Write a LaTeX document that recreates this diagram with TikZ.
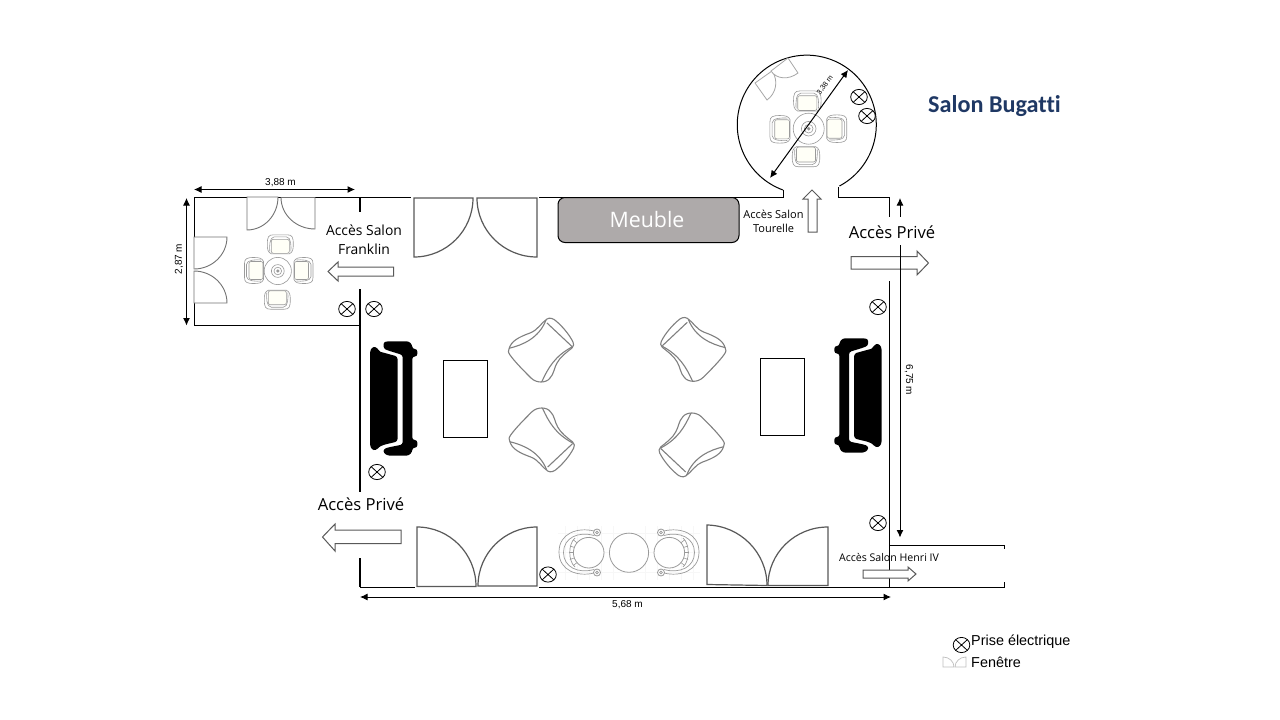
\documentclass[tikz,border=0pt]{standalone}
\usepackage{fontspec}
\setmainfont{Open Sans}
\newfontfamily\arialf{Liberation Sans}
\newfontfamily\titlef[Ligatures=NoCommon]{Carlito}
\usetikzlibrary{arrows.meta,calc}
\definecolor{navy}{HTML}{1F3864}
\definecolor{meublegray}{HTML}{AEAAAA}
\definecolor{chairline}{HTML}{9A9A9A}
\definecolor{cream}{HTML}{FFFFF7}
\tikzset{
  wall/.style={black,line width=.95pt},
  dim/.style={black,line width=1pt,{Latex[length=7.5pt,width=7pt]}-{Latex[length=7.5pt,width=7pt]}},
  doorline/.style={draw=black!65,line width=1.2pt,fill=white},
  thindoor/.style={draw=black!55,line width=.9pt,fill=white},
  windoor/.style={draw=black!35,line width=.8pt,fill=white},
  legdoor/.style={draw=black!25,line width=.7pt,fill=white},
  blockarrow/.style={draw=black!65,line width=1pt,fill=white,line join=miter},
  tub/.style={draw=black!50,line width=1.1pt},
  fur/.style={draw=chairline,line width=.6pt},
  faint/.style={draw=black!3,line width=.5pt},
  sofa/.style={fill=black,draw=none},
  lbl/.style={inner sep=0pt,align=center,text=black},
  dimtxt/.style={inner sep=0pt,font=\arialf\fontsize{10}{12}\selectfont},
  pics/prise/.style={code={
    \draw[black,line width=.8pt,fill=white] (0,0) ellipse[x radius=8.3pt,y radius=7.6pt];
    \draw[black,line width=.8pt] (-5.9,-5.4) -- (5.9,5.4) (-5.9,5.4) -- (5.9,-5.4);
  }},
  pics/chair/.style={code={
    \draw[fur,fill=white] (-9,9.5) .. controls (-12.5,8) and (-13,5) .. (-13,0) .. controls (-13,-7) and (-12,-9.5) .. (-7,-9.5)
       -- (7,-9.5) .. controls (12,-9.5) and (13,-7) .. (13,0) .. controls (13,5) and (12.5,8) .. (9,9.5) -- cycle;
    \draw[fur] (-10.5,7) .. controls (-11,3) and (-11,-7.5) .. (-6,-7.5) -- (6,-7.5) .. controls (11,-7.5) and (11,3) .. (10.5,7);
    \draw[fur,fill=cream,rounded corners=2pt] (-9,9) -- (-9,-5) -- (9,-5) -- (9,9) -- cycle;
  }},
  pics/roundtable/.style={code={
    \draw[fur,fill=white] (0,0) circle[radius=13.6pt];
    \draw[fur] (0,0) circle[radius=6.4pt];
    \draw[fur] (0,0) circle[radius=3.8pt];
    \draw[fur,fill=black!45] (0,0) circle[radius=1.3pt];
  }},
  pics/tubchair/.style={code={
    \draw[tub,fill=white] (-32,-1) .. controls (-30,-9) and (-22,-13) .. (-11,-17)
      .. controls (-3,-20) and (0,-27) .. (6,-31)
      .. controls (9,-33) and (13,-31) .. (15,-29)
      .. controls (21,-24) and (28,-16) .. (32,-8)
      .. controls (33,-6) and (33,-4) .. (31,-2)
      .. controls (26,2) and (19,7) .. (16,13)
      .. controls (13,18) and (13,24) .. (9,28)
      .. controls (7,31) and (3,32) .. (0,32)
      .. controls (-3,32) and (-7,31) .. (-10,28)
      .. controls (-17,21) and (-26,12) .. (-31,5)
      .. controls (-33,2) and (-33,1) .. (-32,-1) -- cycle;
    \draw[tub] (-32,-1.7) .. controls (-18,-5) and (-2,-12) .. (5,-30);
    \draw[tub] (6,-27) -- (31,-3.5);
    \draw[tub] (31,-3) .. controls (14,6) and (7,18) .. (0.7,32);
  }},
}
\newcommand\leaf[4][doorline]{%
  \draw[#1] (#2) -- (#3) .. controls ($(#3)+.552*(#4)-.552*(#2)$) and ($(#4)+.552*(#3)-.552*(#2)$) .. (#4) -- cycle;}
\newcommand\sofashape{%
  \fill[sofa,rounded corners=2.5pt] (370,352) -- (371.5,347.5) -- (376,346.5) .. controls (379,351) and (381,352) .. (383,352.5) -- (397.5,356.5) -- (397.5,441.5) -- (383,445) .. controls (381,446) and (379,447) .. (376,450.5) -- (371.5,449.5) -- (370,445) -- cycle;
  \fill[sofa,rounded corners=2.5pt] (383.5,342) -- (388,341.3) -- (409,341.3) -- (412.3,345) -- (412.3,349) -- (417.3,349) -- (417.3,356.5) -- (412.3,356.5) -- (412.3,440) -- (417.3,440) -- (417.3,447.7) -- (412.3,447.7) -- (412.3,452) -- (408.5,455.7) -- (388,455.7) -- (383.5,453) -- (383.5,449) -- (388,447.5) -- (402.7,444.5) -- (402.7,355) -- (388,350.5) -- (383.5,348.5) -- cycle;}
\newcommand\benchchair{%
  \draw[fur,line width=.7pt] (594,531) .. controls (578,527) and (559,533) .. (559,552) .. controls (559,571) and (578,577) .. (594,573);
  \draw[fur,line width=.7pt] (594,535.5) .. controls (578,531) and (563.5,538) .. (563.5,552.5) .. controls (563.5,567) and (578,574) .. (594,569.5);
  \draw[fur,line width=.7pt] (575,538) .. controls (568,544) and (568,561) .. (575,567);
  \foreach \a in {-40,-20,0,20,40}{\draw[fur,line width=.6pt] ({588.7-15.3*cos(\a)},{552.7+15.3*sin(\a)}) -- ({588.7-20*cos(\a)},{552.7+20*sin(\a)});}
  \draw[fur,line width=.8pt,fill=white] (588.7,552.7) circle[radius=15.3pt];
  \foreach \yy in {532.5,572.5}{\draw[fur,line width=.8pt,fill=white] (597,\yy) circle[radius=3.5pt]; \draw[fur,line width=.8pt] (597,\yy) circle[radius=1.4pt];}}
\begin{document}
\begin{tikzpicture}[x=1pt,y=-1pt]
\useasboundingbox[fill=white] (0,0) rectangle (1280,720);
% walls
\draw[wall] (360,197) -- (194,197) -- (194,237) (194,303) -- (194,325) -- (360,325);
\draw[wall] (360,197) -- (411,197);
\draw[wall,line width=1.3pt] (360,197) -- (360,212) (360,289) -- (360,492) (360,558) -- (360,587);
\draw[wall] (360,587) -- (415,587);
\draw[wall] (539,197) -- (783,197) -- (783,190);
\draw[wall] (838,187) -- (838,197) -- (889.5,197) -- (889.5,217);
\draw[wall] (889.5,281) -- (889.5,587);
\draw[wall] (539,587) -- (1004,587) -- (1004,582);
\draw[wall] (889.5,545) -- (1004,545) -- (1004,549);
% tower
\draw[black,line width=1pt] (783,190) arc[start angle=250,end angle=-62,radius=69.5pt];
% doors
\leaf{414,198}{473,198}{414,257}
\leaf{537,198}{477,198}{537,257}
\leaf{417,586.5}{417,527}{476,586.5}
\leaf{537,586}{537,527}{478,586}
\leaf{707,584.5}{707,525}{767,585.5}
\leaf{828,585.5}{828,527}{768,585.5}
\leaf[thindoor]{247,197}{278,197}{247,230}
\leaf[thindoor]{315,197.5}{281,197.5}{315,229}
\leaf[thindoor]{194,237}{227,237}{194,269}
\leaf[thindoor]{194,303}{227,303}{194,271}
\leaf[windoor]{755,83}{767,100}{772,71}
\leaf[windoor]{788,58}{798,73}{771,71}
% meuble
\node[draw=black,line width=1pt,fill=meublegray,rounded corners=7pt,minimum width=181pt,minimum height=45pt,inner sep=0pt] (meuble) at (648.5,220) {};
\node[lbl,text=white,font=\fontsize{21.3}{25}\selectfont] (meubletxt) at (647,219.5) {Meuble};
% tables + furniture
\draw[black,line width=1pt] (443,360.5) rectangle (487.5,437.5);
\draw[black,line width=1pt] (760.5,358.5) rectangle (804,435.5);
\sofashape
\begin{scope}[shift={(1251.7,-3)},xscale=-1]\sofashape\end{scope}
\pic at (541,350) {tubchair};
\pic[yscale=-1] at (541.7,440) {tubchair};
\pic[xscale=-1] at (693.3,349.3) {tubchair};
\pic[xscale=-1,yscale=-1] at (691.7,445) {tubchair};
% franklin furniture
\pic at (280.3,244.3) {chair};
\pic[rotate=180] at (277.3,299.7) {chair};
\pic[rotate=90] at (254,270.5) {chair};
\pic[rotate=-90] at (303.5,270.5) {chair};
\pic at (277.8,271) {roundtable};
% tower furniture
\pic[scale=1.06] at (807.3,101) {chair};
\pic[scale=1.06,rotate=180] at (806,156.7) {chair};
\pic[scale=1.06,rotate=90] at (780,129.3) {chair};
\pic[scale=1.06,rotate=-90] at (836.7,128.7) {chair};
\pic[scale=1.14] at (808.7,128.7) {roundtable};
% bottom set
\foreach \gx in {565,577,589,601,613,645,657,669,681,693}{\draw[faint] (\gx,526) -- (\gx,580);}
\foreach \gy in {533,552,572}{\draw[faint] (558,\gy) -- (700,\gy);}
\benchchair
\begin{scope}[shift={(1258,0)},xscale=-1]\benchchair\end{scope}
\draw[fur,line width=.8pt,fill=white] (629,552.7) circle[radius=19.6pt];
% block arrows
\draw[blockarrow] (851,256.5) -- (917,256.5) -- (917,251) -- (928.5,263) -- (917,275) -- (917,269) -- (851,269) -- cycle;
\draw[blockarrow] (401,530) -- (335,530) -- (335,524) -- (322.5,537) -- (335,551) -- (335,543.5) -- (401,543.5) -- cycle;
\draw[blockarrow] (393.5,267) -- (338,267) -- (338,262) -- (328,271.5) -- (338,281) -- (338,276) -- (393.5,276) -- cycle;
\draw[blockarrow] (808,232) -- (808,199) -- (803,199) -- (812,190) -- (821,199) -- (817,199) -- (817,232) -- cycle;
\draw[blockarrow] (863,570) -- (908,570) -- (908,567) -- (916,574) -- (908,581) -- (908,578) -- (863,578) -- cycle;
% dimensions
\draw[dim] (194,189.5) -- (355,189.5);
\draw[dim] (186.5,198) -- (186.5,325.5);
\draw[dim] (770,178) -- (848,70);
\draw[dim] (900,198) -- (900,537.5);
\draw[dim] (360,597) -- (891,597);
\node[dimtxt] (d388) at (280.5,182.5) {3,88 m};
\node[dimtxt,rotate=90] (d287) at (179,259) {2,87 m};
\node[dimtxt,rotate=53,font=\arialf\fontsize{7.2}{9}\selectfont] (d338) at (825,85) {3,38 m};
\node[dimtxt,rotate=-90] (d675) at (909,380) {6,75 m};
\node[dimtxt] (d568) at (627.5,605) {5,68 m};
% labels
\node[fill=white,inner sep=0pt,minimum width=88pt,minimum height=28pt] (privebox) at (892,231) {};
\node[lbl] (prive1) at (892,232.5) {\fontsize{16.6}{20}\selectfont Accès Privé};
\node[lbl] (prive2) at (361,504.5) {\fontsize{16.6}{20}\selectfont Accès Privé};
\node[lbl,font=\fontsize{13.9}{19}\selectfont] (franklin) at (364,239.5) {Accès Salon\\Franklin};
\node[lbl,font=\fontsize{11}{14.5}\selectfont] (tourelle) at (773.5,221.5) {Accès Salon\\Tourelle};
\node[lbl,font=\fontsize{10.6}{12}\selectfont] (henri) at (889,557.5) {Accès Salon Henri IV};
\node[lbl,text=navy,font=\titlef\bfseries\fontsize{24.2}{28}\selectfont] (title) at (994.5,106.5) {Salon Bugatti};
% prises
\foreach \px/\py in {347/309,374/309,859/97,867/116,878/307,377/472,548/574.5,878/523}{\pic at (\px,\py) {prise};}
% legend
\pic at (961.5,645) {prise};
\leaf[legdoor]{943,667}{943,657}{954,667}
\leaf[legdoor]{966,667}{966,657}{955,667}
\node[lbl,anchor=west,font=\arialf\fontsize{14.4}{17}\selectfont] (legp) at (971,641.5) {Prise électrique};
\node[lbl,anchor=west,font=\arialf\fontsize{14.4}{17}\selectfont] (legf) at (971,662) {Fenêtre};
\end{tikzpicture}
\end{document}
